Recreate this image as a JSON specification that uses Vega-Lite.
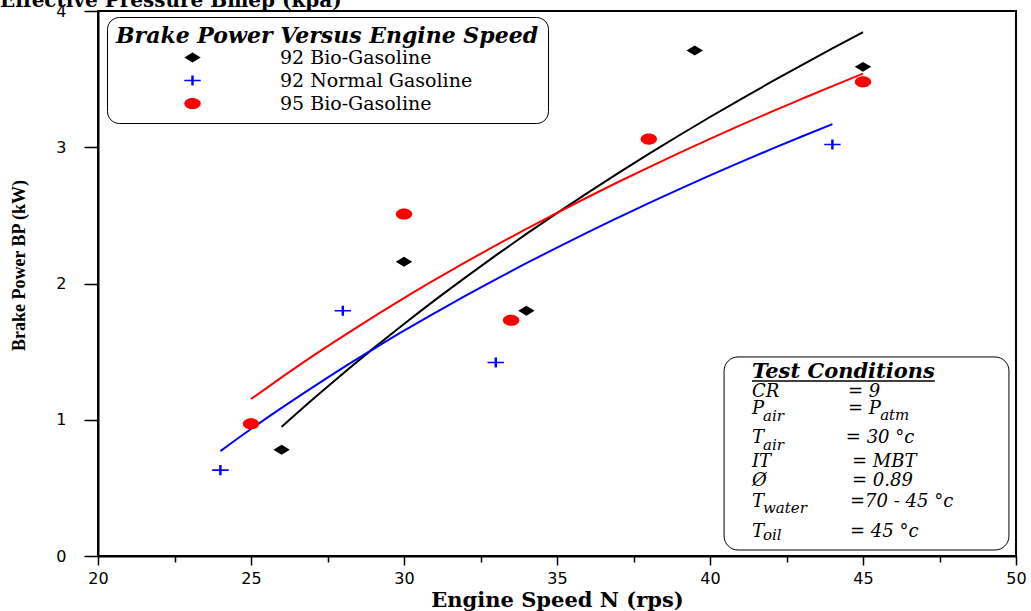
{
  "$schema": "https://vega.github.io/schema/vega-lite/v6.json",
  "width": 918,
  "height": 545,
  "autosize": "none",
  "padding": {"left": 98, "top": 11, "right": 15, "bottom": 55},
  "background": "white",
  "config": {
    "view": {"stroke": "black", "strokeWidth": 2},
    "axis": {"domainColor": "black", "domainWidth": 2, "tickColor": "black", "tickWidth": 1.5, "labelColor": "black", "labelFont": "DejaVu Sans", "labelFontSize": 16, "titleColor": "black", "grid": false, "labelFlush": false, "labelOverlap": false},
    "legend": {
      "orient": "none", "legendX": 9, "legendY": 6,
      "padding": 9, "strokeColor": "black", "fillColor": "white", "cornerRadius": 12, "strokeWidth": 1,
      "titleFont": "DejaVu Serif", "titleFontSize": 22, "titleFontWeight": "bold", "titleFontStyle": "italic", "titleColor": "black", "titlePadding": 0, "titleLimit": 800,
      "labelFont": "DejaVu Serif", "labelFontSize": 19, "labelColor": "black", "labelLimit": 600,
      "symbolOffset": 67, "labelOffset": 78, "symbolSize": 270, "symbolStrokeWidth": 0, "rowPadding": 3
    }
  },
  "datasets": {
    "points": [
      {"series": "92 Bio-Gasoline", "x": 26, "y": 0.78},
      {"series": "92 Bio-Gasoline", "x": 30, "y": 2.16},
      {"series": "92 Bio-Gasoline", "x": 34, "y": 1.80},
      {"series": "92 Bio-Gasoline", "x": 39.5, "y": 3.71},
      {"series": "92 Bio-Gasoline", "x": 45, "y": 3.59},
      {"series": "92 Normal Gasoline", "x": 24, "y": 0.63},
      {"series": "92 Normal Gasoline", "x": 28, "y": 1.80},
      {"series": "92 Normal Gasoline", "x": 33, "y": 1.42},
      {"series": "92 Normal Gasoline", "x": 44, "y": 3.02},
      {"series": "95 Bio-Gasoline", "x": 25, "y": 0.97},
      {"series": "95 Bio-Gasoline", "x": 30, "y": 2.51},
      {"series": "95 Bio-Gasoline", "x": 33.5, "y": 1.73},
      {"series": "95 Bio-Gasoline", "x": 38, "y": 3.06},
      {"series": "95 Bio-Gasoline", "x": 45, "y": 3.48}
    ],
    "fits": [
      {"series": "92 Bio-Gasoline", "x": 26, "y": 0.947},
      {"series": "92 Bio-Gasoline", "x": 27, "y": 1.146},
      {"series": "92 Bio-Gasoline", "x": 28, "y": 1.338},
      {"series": "92 Bio-Gasoline", "x": 29, "y": 1.524},
      {"series": "92 Bio-Gasoline", "x": 30, "y": 1.703},
      {"series": "92 Bio-Gasoline", "x": 31, "y": 1.876},
      {"series": "92 Bio-Gasoline", "x": 32, "y": 2.043},
      {"series": "92 Bio-Gasoline", "x": 33, "y": 2.206},
      {"series": "92 Bio-Gasoline", "x": 34, "y": 2.364},
      {"series": "92 Bio-Gasoline", "x": 35, "y": 2.517},
      {"series": "92 Bio-Gasoline", "x": 36, "y": 2.665},
      {"series": "92 Bio-Gasoline", "x": 37, "y": 2.810},
      {"series": "92 Bio-Gasoline", "x": 38, "y": 2.951},
      {"series": "92 Bio-Gasoline", "x": 39, "y": 3.088},
      {"series": "92 Bio-Gasoline", "x": 40, "y": 3.222},
      {"series": "92 Bio-Gasoline", "x": 41, "y": 3.352},
      {"series": "92 Bio-Gasoline", "x": 42, "y": 3.479},
      {"series": "92 Bio-Gasoline", "x": 43, "y": 3.603},
      {"series": "92 Bio-Gasoline", "x": 44, "y": 3.725},
      {"series": "92 Bio-Gasoline", "x": 45, "y": 3.844},
      {"series": "92 Normal Gasoline", "x": 24, "y": 0.770},
      {"series": "92 Normal Gasoline", "x": 25, "y": 0.932},
      {"series": "92 Normal Gasoline", "x": 26, "y": 1.087},
      {"series": "92 Normal Gasoline", "x": 27, "y": 1.236},
      {"series": "92 Normal Gasoline", "x": 28, "y": 1.381},
      {"series": "92 Normal Gasoline", "x": 29, "y": 1.519},
      {"series": "92 Normal Gasoline", "x": 30, "y": 1.654},
      {"series": "92 Normal Gasoline", "x": 31, "y": 1.783},
      {"series": "92 Normal Gasoline", "x": 32, "y": 1.909},
      {"series": "92 Normal Gasoline", "x": 33, "y": 2.031},
      {"series": "92 Normal Gasoline", "x": 34, "y": 2.149},
      {"series": "92 Normal Gasoline", "x": 35, "y": 2.264},
      {"series": "92 Normal Gasoline", "x": 36, "y": 2.376},
      {"series": "92 Normal Gasoline", "x": 37, "y": 2.484},
      {"series": "92 Normal Gasoline", "x": 38, "y": 2.590},
      {"series": "92 Normal Gasoline", "x": 39, "y": 2.693},
      {"series": "92 Normal Gasoline", "x": 40, "y": 2.793},
      {"series": "92 Normal Gasoline", "x": 41, "y": 2.891},
      {"series": "92 Normal Gasoline", "x": 42, "y": 2.986},
      {"series": "92 Normal Gasoline", "x": 43, "y": 3.079},
      {"series": "92 Normal Gasoline", "x": 44, "y": 3.170},
      {"series": "95 Bio-Gasoline", "x": 25, "y": 1.152},
      {"series": "95 Bio-Gasoline", "x": 26, "y": 1.311},
      {"series": "95 Bio-Gasoline", "x": 27, "y": 1.465},
      {"series": "95 Bio-Gasoline", "x": 28, "y": 1.612},
      {"series": "95 Bio-Gasoline", "x": 29, "y": 1.755},
      {"series": "95 Bio-Gasoline", "x": 30, "y": 1.893},
      {"series": "95 Bio-Gasoline", "x": 31, "y": 2.026},
      {"series": "95 Bio-Gasoline", "x": 32, "y": 2.155},
      {"series": "95 Bio-Gasoline", "x": 33, "y": 2.280},
      {"series": "95 Bio-Gasoline", "x": 34, "y": 2.401},
      {"series": "95 Bio-Gasoline", "x": 35, "y": 2.519},
      {"series": "95 Bio-Gasoline", "x": 36, "y": 2.633},
      {"series": "95 Bio-Gasoline", "x": 37, "y": 2.745},
      {"series": "95 Bio-Gasoline", "x": 38, "y": 2.853},
      {"series": "95 Bio-Gasoline", "x": 39, "y": 2.959},
      {"series": "95 Bio-Gasoline", "x": 40, "y": 3.062},
      {"series": "95 Bio-Gasoline", "x": 41, "y": 3.162},
      {"series": "95 Bio-Gasoline", "x": 42, "y": 3.260},
      {"series": "95 Bio-Gasoline", "x": 43, "y": 3.355},
      {"series": "95 Bio-Gasoline", "x": 44, "y": 3.449},
      {"series": "95 Bio-Gasoline", "x": 45, "y": 3.540}
    ]
  },
  "encoding": {
    "x": {
      "field": "x", "type": "quantitative",
      "scale": {"domain": [20, 50], "nice": false, "zero": false},
      "axis": {
        "values": [20, 22.5, 25, 27.5, 30, 32.5, 35, 37.5, 40, 42.5, 45, 47.5, 50],
        "format": "d",
        "labelExpr": "datum.value % 5 === 0 ? datum.label : ''",
        "tickSize": {"condition": {"test": "datum.value % 5 === 0", "value": 9}, "value": 6},
        "labelPadding": 5,
        "title": "Engine Speed N (rps)",
        "titleFont": "DejaVu Serif", "titleFontWeight": "bold", "titleFontSize": 21,
        "titleY": 50, "titleBaseline": "alphabetic"
      }
    },
    "y": {
      "field": "y", "type": "quantitative",
      "scale": {"domain": [0, 4], "nice": false, "zero": false},
      "axis": {
        "values": [0, 0.5, 1, 1.5, 2, 2.5, 3, 3.5, 4],
        "format": "d",
        "labelExpr": "datum.value % 1 === 0 ? datum.label : ''",
        "tickSize": {"condition": {"test": "datum.value % 1 === 0", "value": 14}, "value": 7},
        "labelPadding": 18,
        "title": "Brake Power BP (kW)",
        "titleFont": "Liberation Serif", "titleFontWeight": "bold", "titleFontSize": 18,
        "titleX": -79, "titleY": 254, "titleAngle": -90, "titleAlign": "center", "titleBaseline": "middle"
      }
    }
  },
  "layer": [
    {
      "data": {"values": [{"x": 40.46, "x2": 49.77, "y": 0.044, "y2": 1.461}]},
      "mark": {"type": "rect", "fill": "white", "stroke": "black", "strokeWidth": 1, "cornerRadius": 14},
      "encoding": {"x2": {"field": "x2"}, "y2": {"field": "y2"}}
    },
    {
      "data": {"name": "fits"},
      "transform": [{"filter": "datum.series === '92 Bio-Gasoline'"}],
      "mark": {"type": "line", "strokeWidth": 2, "interpolate": "monotone", "color": "#000000"},
      "encoding": {}
    },
    {
      "data": {"name": "fits"},
      "transform": [{"filter": "datum.series === '92 Normal Gasoline'"}],
      "mark": {"type": "line", "strokeWidth": 2, "interpolate": "monotone", "color": "#0000ff"},
      "encoding": {}
    },
    {
      "data": {"name": "fits"},
      "transform": [{"filter": "datum.series === '95 Bio-Gasoline'"}],
      "mark": {"type": "line", "strokeWidth": 2, "interpolate": "monotone", "color": "#ff0000"},
      "encoding": {}
    },
    {
      "data": {"name": "points"},
      "mark": {"type": "point", "filled": true, "opacity": 1, "size": 270},
      "encoding": {
        "color": {
          "field": "series", "type": "nominal", "title": "Brake Power Versus Engine Speed",
          "scale": {"domain": ["92 Bio-Gasoline", "92 Normal Gasoline", "95 Bio-Gasoline"], "range": ["#000000", "#0000ff", "#ff0000"]}
        },
        "shape": {
          "field": "series", "type": "nominal", "title": "Brake Power Versus Engine Speed",
          "scale": {"domain": ["92 Bio-Gasoline", "92 Normal Gasoline", "95 Bio-Gasoline"], "range": ["M-1,0L0,-0.6L1,0L0,0.6Z", "M-1,-0.1L1,-0.1L1,0.1L-1,0.1ZM-0.15,-0.62L0.15,-0.62L0.15,0.62L-0.15,0.62Z", "M-1,0A1,0.68 0 1,1 1,0A1,0.68 0 1,1 -1,0Z"]}
        }
      }
    },
    {
      "data": {"values": [{"t": "Effective Pressure Bmep (kpa)", "x": 16.797, "y": 4.029}]},
      "mark": {"type": "text", "font": "DejaVu Serif", "fontWeight": "bold", "fontSize": 20, "align": "left", "baseline": "alphabetic", "color": "black"},
      "encoding": {"text": {"field": "t"}}
    },
    {
      "data": {"values": [{"t": "Test Conditions", "x": 41.373, "y": 1.306}]},
      "mark": {"type": "text", "font": "DejaVu Serif", "fontWeight": "bold", "fontStyle": "italic", "fontSize": 21, "align": "left", "baseline": "alphabetic", "color": "black"},
      "encoding": {"text": {"field": "t"}}
    },
    {
      "data": {"values": [{"x": 41.373, "x2": 47.35, "y": 1.284}]},
      "mark": {"type": "rule", "color": "black", "strokeWidth": 1.5},
      "encoding": {"x2": {"field": "x2"}}
    },
    {
      "data": {"values": [
        {"t": "CR", "x": 41.373, "y": 1.167},
        {"t": "P", "x": 41.373, "y": 1.042},
        {"t": "T", "x": 41.373, "y": 0.829},
        {"t": "IT", "x": 41.373, "y": 0.653},
        {"t": "Ø", "x": 41.373, "y": 0.514},
        {"t": "T", "x": 41.373, "y": 0.360},
        {"t": "T", "x": 41.373, "y": 0.139},
        {"t": "= 9", "x": 44.51, "y": 1.167},
        {"t": "= P", "x": 44.51, "y": 1.042},
        {"t": "= 30 °c", "x": 44.44, "y": 0.829},
        {"t": "= MBT", "x": 44.64, "y": 0.653},
        {"t": "= 0.89", "x": 44.64, "y": 0.514},
        {"t": "=70 - 45 °c", "x": 44.575, "y": 0.360},
        {"t": "= 45 °c", "x": 44.575, "y": 0.139}
      ]},
      "mark": {"type": "text", "font": "DejaVu Serif", "fontStyle": "italic", "fontSize": 18, "align": "left", "baseline": "alphabetic", "color": "black"},
      "encoding": {"text": {"field": "t"}}
    },
    {
      "data": {"values": [
        {"t": "air", "x": 41.73, "y": 0.991},
        {"t": "air", "x": 41.73, "y": 0.778},
        {"t": "water", "x": 41.73, "y": 0.316},
        {"t": "oil", "x": 41.73, "y": 0.117},
        {"t": "atm", "x": 45.56, "y": 0.998}
      ]},
      "mark": {"type": "text", "font": "DejaVu Serif", "fontStyle": "italic", "fontSize": 15, "align": "left", "baseline": "alphabetic", "color": "black"},
      "encoding": {"text": {"field": "t"}}
    }
  ]
}
